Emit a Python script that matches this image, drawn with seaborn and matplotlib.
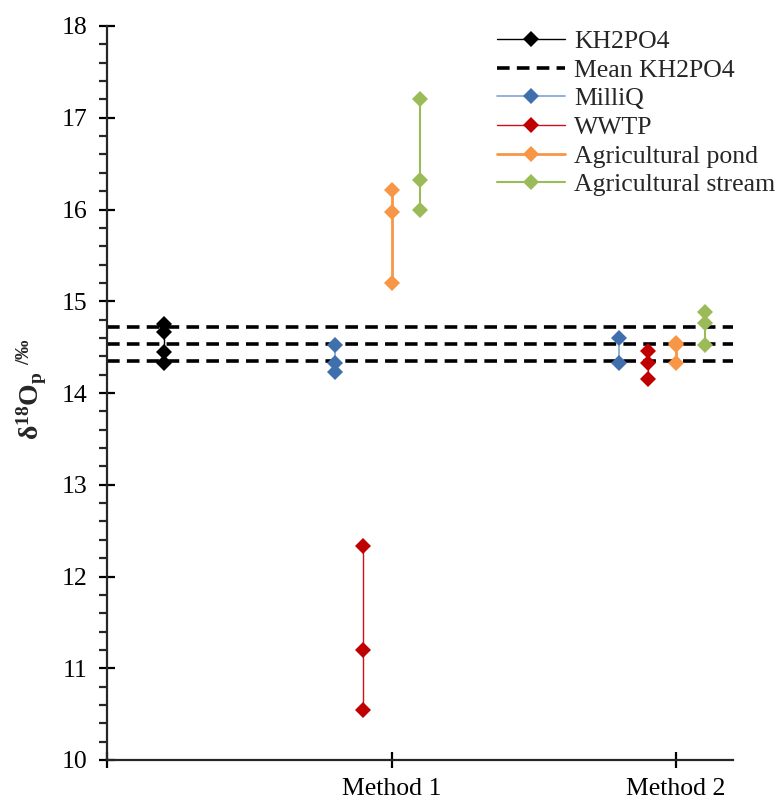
import matplotlib
matplotlib.use('Agg')
import matplotlib.pyplot as plt
from matplotlib.ticker import MultipleLocator, FixedLocator
import seaborn as sns
import pandas as pd

# ---------------- data ----------------
method_ticks = [0, 1, 2]
method_labels = ['', 'Method 1', 'Method 2']

kh2po4_x = 0.2
kh2po4_y = [14.75, 14.66, 14.45, 14.33]
mean_lines = [14.35, 14.53, 14.72]

series_names = ['MilliQ', 'WWTP', 'Agricultural pond', 'Agricultural stream']
method1_x = [0.8, 0.9, 1.0, 1.1]
method2_x = [1.8, 1.9, 2.0, 2.1]
milliq_m1 = [14.52, 14.33, 14.23]
milliq_m2 = [14.60, 14.33]
wwtp_m1 = [12.33, 11.20, 10.55]
wwtp_m2 = [14.46, 14.33, 14.15]
pond_m1 = [16.21, 15.97, 15.20]
pond_m2 = [14.55, 14.52, 14.33]
stream_m1 = [17.20, 16.32, 16.00]
stream_m2 = [14.88, 14.76, 14.52]

line_colors = ['#7FA3D3', '#D0101A', '#F79646', '#9BBB59']
marker_colors = ['#3F6FAD', '#C00000', '#F79646', '#9BBB59']
line_widths = [1.2, 1.0, 2.0, 1.5]

# ---------------- figure ----------------
sns.set_style('ticks')
plt.rcParams['font.family'] = ['Liberation Serif', 'DejaVu Serif']
plt.rcParams['mathtext.fontset'] = 'custom'
plt.rcParams['mathtext.rm'] = 'Liberation Serif'
plt.rcParams['mathtext.it'] = 'Liberation Serif:italic'
plt.rcParams['mathtext.bf'] = 'Liberation Serif:bold'

fig = plt.figure(figsize=(7.84, 8.01), dpi=100)
ax = fig.add_axes([107 / 784, 1 - 760 / 801, (733 - 107) / 784, (760 - 26) / 801])

FS = 18.5
MS = 7.8

# KH2PO4
df_kh = pd.DataFrame({'x': [kh2po4_x] * len(kh2po4_y), 'y': kh2po4_y})
sns.lineplot(data=df_kh, x='x', y='y', estimator=None, sort=False, ax=ax,
             color='black', lw=1.0, marker='D', markersize=MS,
             markerfacecolor='black', markeredgewidth=0, label='KH2PO4')

# mean +- sd lines
for i, v in enumerate(mean_lines):
    ax.axhline(v, color='black', lw=2.6, ls=(0, (3.5, 2.0)),
               label='Mean KH2PO4' if i == 0 else None, zorder=1)

m1_all = [milliq_m1, wwtp_m1, pond_m1, stream_m1]
m2_all = [milliq_m2, wwtp_m2, pond_m2, stream_m2]
for k, name in enumerate(series_names):
    rows = []
    for v in m1_all[k]:
        rows.append({'x': method1_x[k], 'y': v, 'g': 1})
    for v in m2_all[k]:
        rows.append({'x': method2_x[k], 'y': v, 'g': 2})
    df = pd.DataFrame(rows)
    sns.lineplot(data=df, x='x', y='y', units='g', estimator=None, sort=False, ax=ax,
                 color=line_colors[k], lw=line_widths[k], marker='D', markersize=MS,
                 markerfacecolor=marker_colors[k], markeredgewidth=0, label=name)

ax.set_xlim(0, 2.2)
ax.set_ylim(10, 18)
ax.xaxis.set_major_locator(FixedLocator(method_ticks))
ax.set_xticklabels(method_labels)
ax.yaxis.set_major_locator(MultipleLocator(1))
ax.yaxis.set_minor_locator(MultipleLocator(0.2))
ax.set_xlabel('')
ax.set_ylabel(r'$\mathbf{\delta^{18}O_{p}}$ $^{\mathbf{/‰}}$', fontsize=20)
ax.yaxis.set_label_coords(-0.093, 0.505)

for s in ['top', 'right']:
    ax.spines[s].set_visible(False)
for s in ['left', 'bottom']:
    ax.spines[s].set_linewidth(1.6)
ax.tick_params(axis='both', which='major', direction='inout', length=12, width=1.6,
               labelsize=FS, colors='black')
ax.tick_params(axis='y', which='major', pad=8)
ax.tick_params(axis='x', which='major', pad=7)
ax.tick_params(axis='y', which='minor', direction='out', length=6, width=1.6)
ax.grid(False)

handles, labels = ax.get_legend_handles_labels()
seen = {}
for h, l in zip(handles, labels):
    if l not in seen:
        seen[l] = h
order = ['KH2PO4', 'Mean KH2PO4'] + series_names
ax.legend([seen[l] for l in order], order, loc='upper left',
          bbox_to_anchor=(497 / 784, 1 - 30 / 801), bbox_transform=fig.transFigure,
          frameon=False, fontsize=FS, borderpad=0, borderaxespad=0,
          labelspacing=0.22, handlelength=2.65, handletextpad=0.35, numpoints=1)

fig.savefig('out.png', dpi=100)
